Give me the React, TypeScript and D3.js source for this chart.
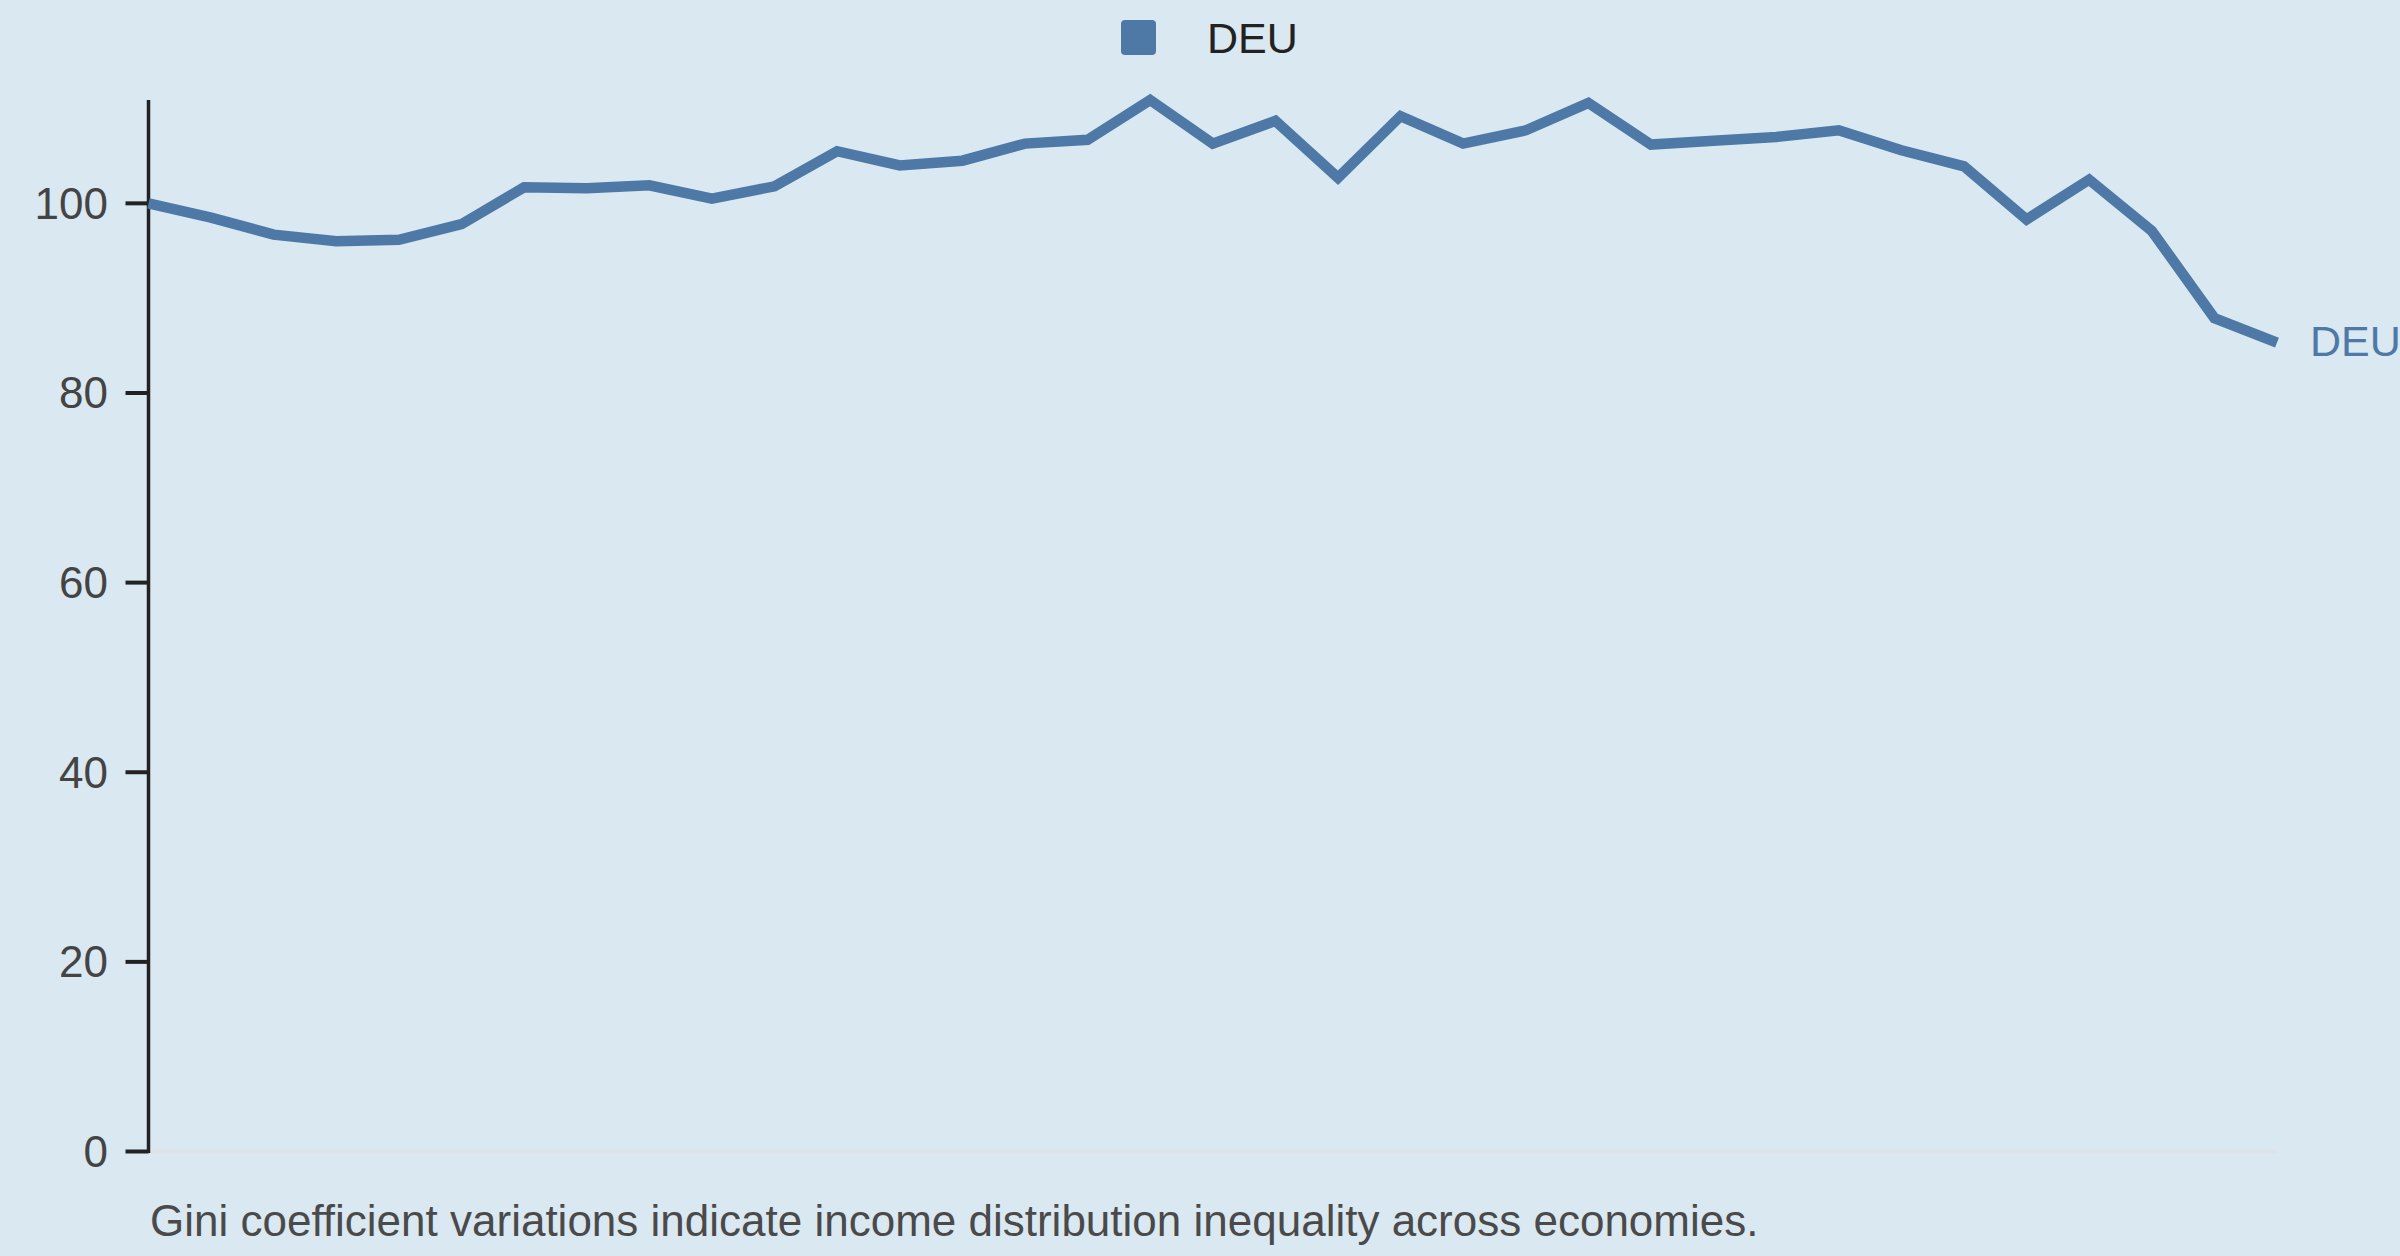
import React from "react";
import * as d3 from "d3";

const years: number[] = d3.range(1990, 2025);
const deuValues: number[] = [
  100.0, 98.5, 96.7, 96.0, 96.15, 97.8, 101.7, 101.6, 101.9, 100.5,
  101.8, 105.5, 104.0, 104.5, 106.3, 106.7, 110.9, 106.3, 108.7, 102.7,
  109.2, 106.3, 107.7, 110.6, 106.2, 106.6, 107.0, 107.7, 105.6, 103.9,
  98.3, 102.5, 97.1, 87.9, 85.3,
];
const seriesName = "DEU";
const caption = "Gini coefficient variations indicate income distribution inequality across economies.";

const W = 2400;
const H = 1256;
const FONT = "'Liberation Sans', Arial, sans-serif";
const BG = "#dae8f1";
const LINE = "#4e79a7";

export default function App() {
  const left = 148.5;
  const right = 2277;
  const top = 100;
  const bottom = 1151.5;

  const x = d3.scalePoint<number>().domain(years).range([left, right]);
  const y = d3
    .scaleLinear()
    .domain([0, d3.max(deuValues) as number])
    .range([bottom, top]);

  const pts: [number, number][] = years.map((yr, i) => [x(yr) as number, y(deuValues[i])]);
  const path = d3.line()(pts) || "";
  const ticks = d3.ticks(0, 100, 5);
  const last = pts[pts.length - 1];

  return (
    <svg
      width={W}
      height={H}
      style={{ position: "absolute", left: 0, top: 0, display: "block" }}
      fontFamily={FONT}
    >
      <rect x={0} y={0} width={W} height={H} fill={BG} />
      {/* legend */}
      <rect x={1121} y={20} width={35} height={35} rx={4} fill={LINE} />
      <text x={1207} y={52.5} fontSize={43} fill="#222">
        {seriesName}
      </text>
      {/* baseline */}
      <line x1={left} x2={right} y1={y(0)} y2={y(0)} stroke="#dfe2e9" strokeWidth={3.5} />
      {/* y axis */}
      <line x1={left} x2={left} y1={top} y2={bottom + 1.5} stroke="#222" strokeWidth={3.5} />
      {ticks.map((t) => (
        <g key={t}>
          <line x1={left - 23} x2={left} y1={y(t)} y2={y(t)} stroke="#222" strokeWidth={4} />
          <text
            x={108}
            y={y(t)}
            dy="0.35em"
            textAnchor="end"
            fontSize={44}
            fill="#444"
          >
            {t}
          </text>
        </g>
      ))}
      {/* line */}
      <path d={path} fill="none" stroke={LINE} strokeWidth={10.5} strokeLinejoin="miter" strokeLinecap="butt" />
      <text x={last[0] + 33} y={last[1]} dy="0.3em" fontSize={43} fill={LINE}>
        {seriesName}
      </text>
      {/* caption */}
      <text x={150} y={1236} fontSize={44} fill="#4a4a4a">
        {caption}
      </text>
    </svg>
  );
}
